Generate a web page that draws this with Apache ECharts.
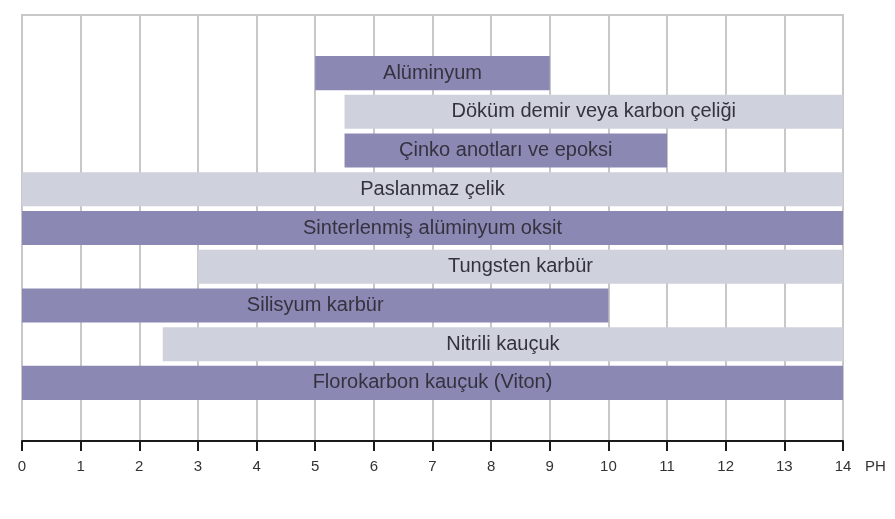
<!DOCTYPE html>
<html>
<head>
<meta charset="utf-8">
<script src="https://cdn.jsdelivr.net/npm/echarts@6/dist/echarts.min.js"></script>
<style>
html,body{margin:0;padding:0;background:#fff;}
#chart{width:895px;height:519px;}
</style>
</head>
<body>
<div id="chart"></div>
<script>
// Categories (top to bottom); first and last are empty padding rows
var categories = [' ', 'Alüminyum', 'Döküm demir veya karbon çeliği', 'Çinko anotları ve epoksi',
  'Paslanmaz çelik', 'Sinterlenmiş alüminyum oksit', 'Tungsten karbür', 'Silisyum karbür',
  'Nitrili kauçuk', 'Florokarbon kauçuk (Viton)', '  '];
var startPH = [null, 5, 5.5, 5.5, 0, 0, 3, 0, 2.4, 0, null];
var endPH   = [null, 9, 14, 11, 14, 14, 14, 10, 14, 14, null];
var tone    = [null, 'dark', 'light', 'dark', 'light', 'dark', 'light', 'dark', 'light', 'dark', null];
var phTicks = [0,1,2,3,4,5,6,7,8,9,10,11,12,13,14];

var colors = { dark: '#8b88b3', light: '#cfd2dc' };

var baseData = startPH.map(function (s) { return s; });
var spanData = startPH.map(function (s, i) {
  if (s === null) return null;
  return { value: endPH[i] - s, itemStyle: { color: colors[tone[i]] } };
});

var chart = echarts.init(document.getElementById('chart'), null, { renderer: 'canvas' });
chart.setOption({
  animation: false,
  grid: { left: 22, right: 52, top: 15, bottom: 78, show: true, borderColor: '#c8c8c8', borderWidth: 2, backgroundColor: 'transparent' },
  xAxis: {
    type: 'value', min: 0, max: 14, interval: 1,
    name: 'PH', nameLocation: 'end', nameGap: 22,
    nameTextStyle: { color: '#333', fontSize: 15, fontFamily: 'Liberation Sans, Arial, sans-serif', align: 'left', verticalAlign: 'top', padding: [18, 0, 0, 0] },
    axisLine: { show: true, lineStyle: { color: '#1a1a1a', width: 2 } },
    axisTick: { show: true, length: 10, lineStyle: { color: '#1a1a1a', width: 2 } },
    axisLabel: { color: '#333', fontSize: 15, margin: 18, fontFamily: 'Liberation Sans, Arial, sans-serif',
      formatter: function (v) { return phTicks.indexOf(v) >= 0 ? String(v) : ''; } },
    splitLine: { show: true, lineStyle: { color: '#c8c8c8', width: 2 } }
  },
  yAxis: {
    type: 'category', data: categories, inverse: true,
    axisLine: { show: false }, axisTick: { show: false }, axisLabel: { show: false }, splitLine: { show: false }
  },
  series: [
    { type: 'bar', stack: 'r', data: baseData, barWidth: '88%', itemStyle: { color: 'transparent' }, silent: true },
    { type: 'bar', stack: 'r', data: spanData, barWidth: '88%',
      label: { show: true, position: 'inside', color: '#333340', fontSize: 20, fontFamily: 'Liberation Sans, Arial, sans-serif',
        formatter: function (p) { return categories[p.dataIndex]; } } }
  ]
});
</script>
</body>
</html>
